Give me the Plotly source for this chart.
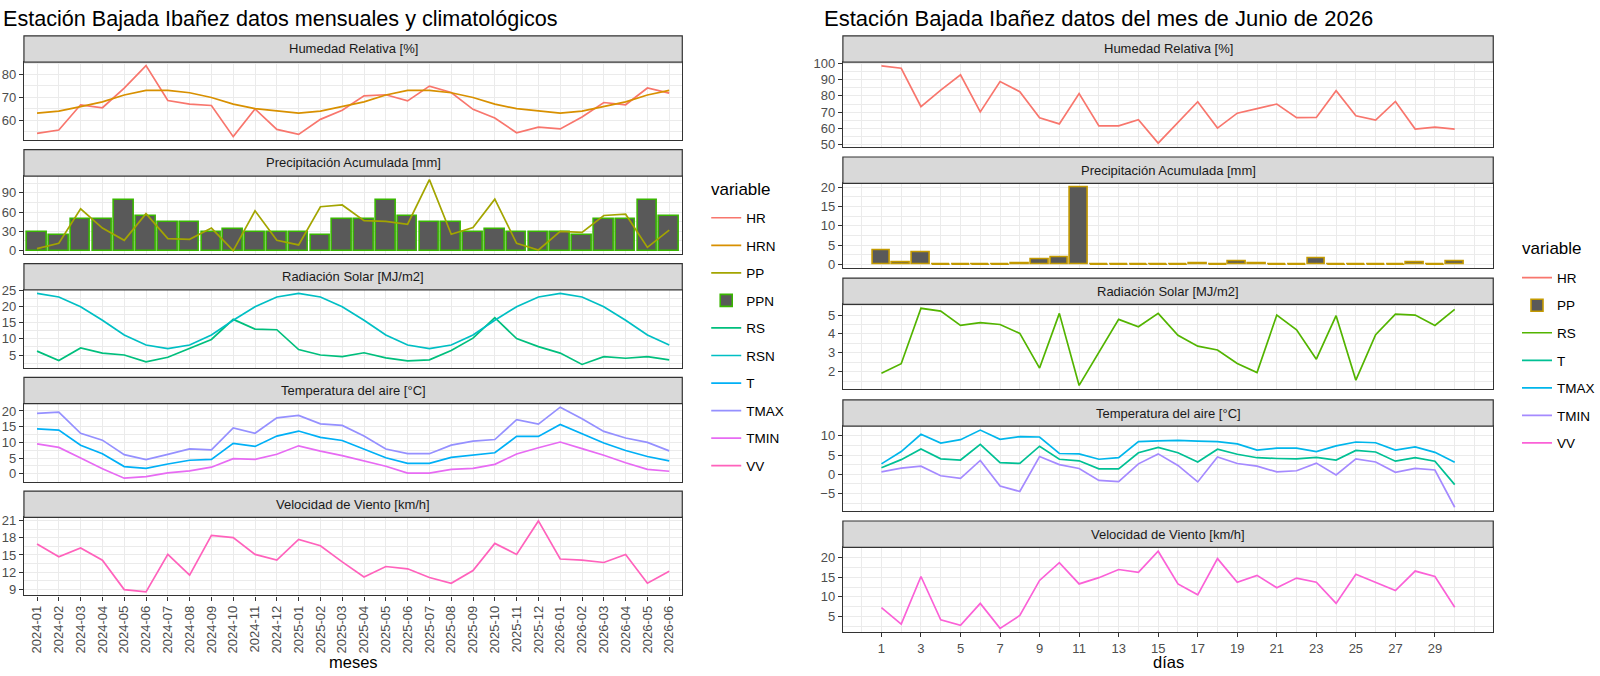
import plotly.graph_objects as go

W, H = 1600, 676
FONT = "Liberation Sans, Arial, sans-serif"

# ---- monthly data (left chart) ----
MESES = ["2024-01", "2024-02", "2024-03", "2024-04", "2024-05", "2024-06",
         "2024-07", "2024-08", "2024-09", "2024-10", "2024-11", "2024-12",
         "2025-01", "2025-02", "2025-03", "2025-04", "2025-05", "2025-06",
         "2025-07", "2025-08", "2025-09", "2025-10", "2025-11", "2025-12",
         "2026-01", "2026-02", "2026-03", "2026-04", "2026-05", "2026-06"]
HR = [54.1, 55.6, 66.7, 65.4, 74.0, 83.9, 68.6, 67.0, 66.4, 52.7, 64.9, 55.9,
      53.7, 60.3, 64.3, 70.6, 71.1, 68.4, 74.9, 72.1, 64.7, 60.9, 54.4, 56.9,
      56.1, 61.3, 67.7, 66.7, 74.1, 71.8]
HRN = [63.0, 63.9, 65.9, 68.0, 71.0, 73.0, 73.0, 72.0, 69.9, 67.0, 65.0, 64.0,
       63.0, 63.9, 65.9, 68.0, 71.0, 73.0, 73.0, 72.0, 69.9, 67.0, 65.0, 64.0,
       63.0, 63.9, 65.9, 68.0, 71.0, 73.0]
PP = [3.0, 11.4, 65.0, 35.0, 16.0, 57.5, 18.6, 17.6, 35.0, 0.0, 62.0, 16.0,
      8.8, 68.3, 71.0, 46.6, 45.5, 41.0, 110.5, 25.5, 36.0, 80.0, 11.4, 1.0,
      29.8, 28.3, 54.6, 56.6, 5.0, 31.9]
PPN = [29, 24, 49, 49, 78, 53, 44, 44, 29, 34, 29, 29,
       29, 24, 49, 49, 78, 53, 44, 44, 29, 34, 29, 29,
       29, 24, 49, 49, 78, 53]
RS = [6.2, 3.3, 7.2, 5.6, 5.0, 2.9, 4.3, 7.0, 9.8, 16.0, 13.0, 12.8,
      6.7, 5.0, 4.5, 5.7, 4.1, 3.2, 3.5, 6.4, 10.2, 16.5, 10.1, 7.6,
      5.6, 2.1, 4.5, 4.0, 4.5, 3.5]
RSN = [24.0, 22.9, 19.9, 15.7, 11.2, 8.1, 7.0, 8.1, 11.2, 15.7, 19.9, 22.9,
       24.0, 22.9, 19.9, 15.7, 11.2, 8.1, 7.0, 8.1, 11.2, 15.7, 19.9, 22.9,
       24.0, 22.9, 19.9, 15.7, 11.2, 8.1]
T = [14.3, 13.9, 9.1, 6.4, 2.3, 1.7, 3.1, 4.3, 4.6, 9.7, 8.7, 12.0,
     13.6, 11.6, 10.6, 7.9, 5.1, 3.3, 3.3, 5.2, 6.0, 6.7, 11.9, 11.9,
     15.7, 12.8, 9.8, 7.4, 5.5, 4.1]
TMAX = [19.2, 19.6, 12.9, 10.7, 6.1, 4.5, 6.2, 7.9, 7.6, 14.6, 12.9, 17.8,
        18.6, 15.9, 15.4, 12.0, 7.9, 6.4, 6.4, 9.1, 10.4, 10.9, 17.2, 15.8,
        21.2, 17.5, 13.5, 11.4, 10.0, 7.3]
TMIN = [9.5, 8.4, 5.0, 1.6, -1.4, -0.9, 0.3, 0.9, 2.1, 4.8, 4.6, 6.2,
        8.9, 7.2, 5.8, 4.2, 2.4, 0.2, 0.2, 1.4, 1.7, 3.0, 6.3, 8.3,
        10.1, 8.0, 5.9, 3.5, 1.4, 0.8]
VV = [16.9, 14.7, 16.2, 14.1, 9.0, 8.6, 15.1, 11.5, 18.4, 18.0, 15.1, 14.1,
      17.7, 16.6, 13.8, 11.2, 13.0, 12.6, 11.1, 10.1, 12.3, 17.0, 15.1, 20.9,
      14.3, 14.1, 13.7, 15.1, 10.1, 12.2]

# ---- daily data, June 2026 (right chart) ----
DIAS = list(range(1, 31))
HR_D = [98.4, 97.0, 73.4, 83.6, 93.0, 70.2, 88.8, 82.6, 66.6, 62.8,
        81.4, 61.6, 61.6, 65.4, 51.0, 63.5, 76.4, 60.2, 69.4, 72.2,
        75.0, 66.6, 66.8, 83.2, 67.8, 65.2, 76.6, 59.6, 60.8, 59.6]
PP_D = [3.6, 0.6, 3.0, 0.0, 0.0, 0.0, 0.0, 0.2, 1.2, 1.8,
        20.0, 0.0, 0.0, 0.0, 0.0, 0.0, 0.3, 0.0, 0.7, 0.2,
        0.0, 0.0, 1.6, 0.0, 0.0, 0.0, 0.0, 0.5, 0.0, 0.7]
RS_D = [1.92, 2.42, 5.36, 5.21, 4.45, 4.60, 4.50, 4.03, 2.19, 5.09,
        1.27, 3.02, 4.77, 4.38, 5.09, 3.93, 3.35, 3.15, 2.43, 1.95,
        5.00, 4.22, 2.66, 4.97, 1.55, 3.96, 5.05, 5.00, 4.45, 5.30]
T_D = [1.7, 3.8, 6.6, 4.0, 3.7, 7.8, 3.0, 2.8, 7.3, 3.9,
       3.5, 1.4, 1.4, 5.6, 7.0, 5.6, 3.2, 6.5, 5.2, 4.3,
       4.1, 4.0, 4.4, 3.7, 6.2, 5.8, 3.4, 4.3, 3.4, -2.7]
TMAX_D = [2.7, 5.9, 10.4, 8.1, 9.0, 11.5, 9.1, 9.8, 9.7, 5.4,
          5.3, 3.9, 4.3, 8.5, 8.7, 8.8, 8.6, 8.5, 7.9, 6.3,
          6.8, 6.8, 5.9, 7.4, 8.4, 8.2, 6.3, 7.1, 5.7, 3.1]
TMIN_D = [0.6, 1.6, 2.1, -0.4, -1.1, 3.6, -3.1, -4.5, 4.6, 2.5,
          1.5, -1.6, -1.9, 2.7, 5.3, 2.3, -2.0, 4.5, 2.8, 2.1,
          0.6, 0.9, 2.9, -0.2, 4.0, 3.2, 0.5, 1.5, 1.1, -8.6]
VV_D = [7.2, 3.0, 15.2, 4.1, 2.7, 8.3, 1.9, 5.2, 14.2, 18.75,
        13.3, 14.9, 17.0, 16.25, 21.7, 13.3, 10.5, 19.8, 13.7, 15.5,
        12.3, 14.8, 13.75, 8.3, 15.8, 13.8, 11.6, 16.6, 15.2, 7.3]

STRIPS = ["Humedad Relativa [%]", "Precipitación Acumulada [mm]",
          "Radiación Solar [MJ/m2]", "Temperatura del aire [°C]",
          "Velocidad de Viento [km/h]"]
DAY_TICKS = [1, 3, 5, 7, 9, 11, 13, 15, 17, 19, 21, 23, 25, 27, 29]

# ggplot hue palettes (10 and 7 levels)
COL_L = {'HR': '#F8766D', 'HRN': '#D89000', 'PP': '#A3A500', 'PPN': '#39B600',
         'RS': '#00BF7D', 'RSN': '#00BFC4', 'T': '#00B0F6', 'TMAX': '#9590FF',
         'TMIN': '#E76BF3', 'VV': '#FF62BC'}
COL_R = {'HR': '#F8766D', 'PP': '#C49A00', 'RS': '#53B400', 'T': '#00C094',
         'TMAX': '#00B6EB', 'TMIN': '#A58AFF', 'VV': '#FB61D7'}
BAR_FILL = '#595959'
GRID = '#EBEBEB'
BORDER = '#333333'

# layout in pixels
LEFT_X = (24, 684)
RIGHT_X = (845, 1497)
LEFT_STRIP_TOP = [29.3, 145.3, 261.2, 377.0, 492.8]
RIGHT_STRIP_TOP = [29.3, 152.7, 276.0, 400.0, 523.3]
STRIP_H = 26.8
LEFT_PANEL_H = 79.5
RIGHT_PANEL_H = 86.4


def fx(px):
    return px / W


def fy(py):
    return 1 - py / H


def yrange(*series, zero=False):
    vals = [v for s in series for v in s]
    if zero:
        vals.append(0)
    lo, hi = min(vals), max(vals)
    pad = (hi - lo) * 0.05
    return [lo - pad, hi + pad]


fig = go.Figure()
LW = 1.7


def line(x, y, name, color, n, legend, rank):
    fig.add_trace(go.Scatter(
        x=x, y=y, mode='lines', name=name,
        line=dict(color=color, width=LW),
        xaxis='x' if n == 1 else f'x{n}', yaxis='y' if n == 1 else f'y{n}',
        legend=legend, legendgroup=legend + name, legendrank=rank,
    ))


def bars(x, y, name, outline, n, legend, rank):
    fig.add_trace(go.Bar(
        x=x, y=y, name=name, width=0.9,
        marker=dict(color=BAR_FILL, line=dict(color=outline, width=1.6)),
        xaxis='x' if n == 1 else f'x{n}', yaxis='y' if n == 1 else f'y{n}',
        legend=legend, legendgroup=legend + name, legendrank=rank,
    ))


IDX = list(range(len(MESES)))

# left chart
line(IDX, HR, 'HR', COL_L['HR'], 1, 'legend', 1)
line(IDX, HRN, 'HRN', COL_L['HRN'], 1, 'legend', 2)
bars(IDX, PPN, 'PPN', COL_L['PPN'], 2, 'legend', 4)
line(IDX, PP, 'PP', COL_L['PP'], 2, 'legend', 3)
line(IDX, RS, 'RS', COL_L['RS'], 3, 'legend', 5)
line(IDX, RSN, 'RSN', COL_L['RSN'], 3, 'legend', 6)
line(IDX, T, 'T', COL_L['T'], 4, 'legend', 7)
line(IDX, TMAX, 'TMAX', COL_L['TMAX'], 4, 'legend', 8)
line(IDX, TMIN, 'TMIN', COL_L['TMIN'], 4, 'legend', 9)
line(IDX, VV, 'VV', COL_L['VV'], 5, 'legend', 10)

# right chart
line(DIAS, HR_D, 'HR', COL_R['HR'], 6, 'legend2', 1)
bars(DIAS, PP_D, 'PP', COL_R['PP'], 7, 'legend2', 2)
# zero-height bars still show their outline in ggplot
zx, zy = [], []
for d, v in zip(DIAS, PP_D):
    if v == 0:
        zx += [d - 0.45, d + 0.45, None]
        zy += [v, v, None]
fig.add_trace(go.Scatter(x=zx, y=zy, mode='lines', showlegend=False,
                         line=dict(color=COL_R['PP'], width=1.6),
                         xaxis='x7', yaxis='y7', hoverinfo='skip'))
line(DIAS, RS_D, 'RS', COL_R['RS'], 8, 'legend2', 3)
line(DIAS, T_D, 'T', COL_R['T'], 9, 'legend2', 4)
line(DIAS, TMAX_D, 'TMAX', COL_R['TMAX'], 9, 'legend2', 5)
line(DIAS, TMIN_D, 'TMIN', COL_R['TMIN'], 9, 'legend2', 6)
line(DIAS, VV_D, 'VV', COL_R['VV'], 10, 'legend2', 7)

# y axis settings per panel: (range, tickvals, minor step)
LEFT_Y = [
    (yrange(HR, HRN), [60, 70, 80], 5),
    (yrange(PP, PPN, zero=True), [0, 30, 60, 90], 15),
    (yrange(RS, RSN), [5, 10, 15, 20, 25], 2.5),
    (yrange(T, TMAX, TMIN), [0, 5, 10, 15, 20], 2.5),
    (yrange(VV), [9, 12, 15, 18, 21], 1.5),
]
RIGHT_Y = [
    (yrange(HR_D), [50, 60, 70, 80, 90, 100], 5),
    (yrange(PP_D, zero=True), [0, 5, 10, 15, 20], 2.5),
    (yrange(RS_D), [2, 3, 4, 5], 0.5),
    (yrange(T_D, TMAX_D, TMIN_D), [-5, 0, 5, 10], 2.5),
    (yrange(VV_D), [5, 10, 15, 20], 2.5),
]

tick_font = dict(family=FONT, size=13, color='#4D4D4D')
layout = {}
shapes = []
annotations = []

for side in range(2):
    xs = LEFT_X if side == 0 else RIGHT_X
    tops = LEFT_STRIP_TOP if side == 0 else RIGHT_STRIP_TOP
    ph = LEFT_PANEL_H if side == 0 else RIGHT_PANEL_H
    yset = LEFT_Y if side == 0 else RIGHT_Y
    for r in range(5):
        n = side * 5 + r + 1
        top = tops[r] + STRIP_H
        bottom = top + ph
        bottom_row = r == 4
        xa = dict(
            domain=[fx(xs[0]), fx(xs[1])], anchor='y' if n == 1 else f'y{n}',
            showline=True, mirror=True, linecolor=BORDER, linewidth=1.2,
            showgrid=True, gridcolor=GRID, gridwidth=1.2, zeroline=False,
            ticks='outside' if bottom_row else '', ticklen=4, tickwidth=1.2,
            tickcolor=BORDER, showticklabels=bottom_row, tickfont=tick_font,
        )
        if side == 0:
            xa.update(range=[-0.6, len(MESES) - 0.4], tickmode='array',
                      tickvals=IDX, ticktext=MESES, tickangle=-90)
        else:
            xa.update(range=[-0.95, 31.95], tickmode='array',
                      tickvals=DAY_TICKS,
                      minor=dict(tick0=0, dtick=1, showgrid=True,
                                 gridcolor=GRID, gridwidth=0.6, ticks=''))
        rng, tv, mstep = yset[r]
        ya = dict(
            domain=[fy(bottom), fy(top)], anchor='x' if n == 1 else f'x{n}',
            range=rng, tickmode='array', tickvals=tv,
            showline=True, mirror=True, linecolor=BORDER, linewidth=1.2,
            showgrid=True, gridcolor=GRID, gridwidth=1.2, zeroline=False,
            ticks='outside', ticklen=4, tickwidth=1.2, tickcolor=BORDER,
            tickfont=tick_font,
            minor=dict(tick0=tv[0], dtick=mstep, showgrid=True,
                       gridcolor=GRID, gridwidth=0.6, ticks=''),
        )
        layout['xaxis' if n == 1 else f'xaxis{n}'] = xa
        layout['yaxis' if n == 1 else f'yaxis{n}'] = ya

        # facet strip
        shapes.append(dict(type='rect', xref='paper', yref='paper',
                           x0=fx(xs[0]), x1=fx(xs[1]),
                           y0=fy(top), y1=fy(tops[r]),
                           fillcolor='#D9D9D9', line=dict(color=BORDER, width=1.2),
                           layer='above'))
        annotations.append(dict(text=STRIPS[r], xref='paper', yref='paper',
                                x=fx((xs[0] + xs[1]) / 2),
                                y=fy(tops[r] + STRIP_H / 2),
                                xanchor='center', yanchor='middle',
                                showarrow=False,
                                font=dict(family=FONT, size=13, color='#1A1A1A')))


def text(s, x, y, size, xanchor='left'):
    return dict(text=s, xref='paper', yref='paper', x=fx(x), y=fy(y),
                xanchor=xanchor, yanchor='middle', showarrow=False,
                font=dict(family=FONT, size=size, color='black'))


# titles, axis titles, legend titles
annotations += [
    text('Estación Bajada Ibañez datos mensuales y climatológicos', 1, 12, 21.6),
    text('Estación Bajada Ibañez datos del mes de Junio de 2026', 824, 12, 22),
    text('meses', (LEFT_X[0] + LEFT_X[1]) / 2, 667, 16.5, 'center'),
    text('días', (RIGHT_X[0] + RIGHT_X[1]) / 2, 667, 16.5, 'center'),
    text('variable', 711, 186, 17),
    text('variable', 1524, 246, 17),
]

legend_style = dict(
    xanchor='left', yanchor='top', bgcolor='rgba(0,0,0,0)',
    font=dict(family=FONT, size=13.5, color='black'),
    tracegroupgap=7, itemwidth=30, traceorder='grouped',
)

fig.update_layout(
    width=W, height=H,
    margin=dict(l=0, r=0, t=0, b=0),
    paper_bgcolor='white', plot_bgcolor='white',
    showlegend=True, bargap=0,
    legend=dict(x=fx(708), y=fy(199), **legend_style),
    legend2=dict(x=fx(1521), y=fy(260), **legend_style),
    shapes=shapes, annotations=annotations,
    font=dict(family=FONT),
    **layout,
)

fig.write_html("out.html",
               config={'displayModeBar': False},
               post_script="document.body.style.margin='0px';"
                           "document.body.style.overflow='hidden';")
